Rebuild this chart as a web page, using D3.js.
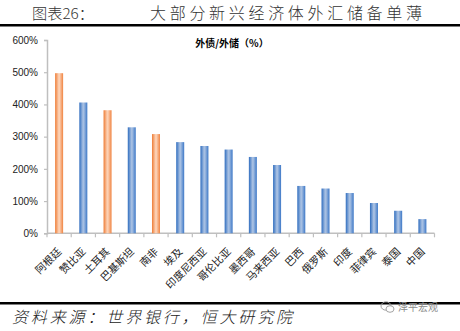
<!DOCTYPE html>
<html><head><meta charset="utf-8">
<script src="https://cdn.jsdelivr.net/npm/d3@7"></script>
<style>
html,body{margin:0;padding:0;background:#fff;}
svg{display:block;}
</style></head>
<body>
<svg id="chart" width="460" height="331"></svg>
<script>
// External debt / FX reserves ratio by emerging economy
const countries = ["阿根廷","赞比亚","土耳其","巴基斯坦","南非","埃及","印度尼西亚","哥伦比亚","墨西哥","马来西亚","巴西","俄罗斯","印度","菲律宾","泰国","中国"];
const ratios = [497, 406, 382, 329, 308, 283, 271, 260, 237, 212, 147, 139, 125, 94, 70, 44];
const highlighted = ["阿根廷","土耳其","南非"];
const yTicks = [0, 100, 200, 300, 400, 500, 600];

const svg = d3.select("#chart");
const plot = {left: 47, right: 434.5, top: 40, bottom: 233.3};

const x = d3.scaleBand().domain(countries).range([plot.left, plot.right]).padding(0);
const y = d3.scaleLinear().domain([0, 600]).range([plot.bottom, plot.top]);

// cylinder-style horizontal gradients
const defs = svg.append("defs");
function grad(id, edgeL, mid, edgeR) {
  const g = defs.append("linearGradient").attr("id", id).attr("x1", "0").attr("x2", "1").attr("y1", "0").attr("y2", "0");
  g.append("stop").attr("offset", "0%").attr("stop-color", edgeL);
  g.append("stop").attr("offset", "45%").attr("stop-color", mid);
  g.append("stop").attr("offset", "55%").attr("stop-color", mid);
  g.append("stop").attr("offset", "100%").attr("stop-color", edgeR);
}
grad("gBlue", "#2f6dbf", "#a6bfe2", "#3d78c7");
grad("gOrange", "#ee7c35", "#fcd0b3", "#f08442");

// header
svg.append("text").attr("x", 32).attr("y", 19)
  .attr("font-family", "Noto Sans CJK SC").attr("font-weight", 300).attr("font-size", 15)
  .attr("fill", "#333").attr("textLength", 62).attr("lengthAdjust", "spacingAndGlyphs")
  .text("图表26：");
svg.append("text").attr("x", 150).attr("y", 19)
  .attr("font-family", "Noto Sans CJK SC").attr("font-weight", 300).attr("font-size", 16)
  .attr("fill", "#333").attr("textLength", 272).attr("lengthAdjust", "spacing")
  .text("大部分新兴经济体外汇储备单薄");
svg.append("rect").attr("x", 0).attr("y", 24).attr("width", 460).attr("height", 2.5).attr("fill", "#000");

// legend title
svg.append("text").attr("x", 232).attr("y", 47).attr("text-anchor", "middle")
  .attr("font-family", "Noto Sans CJK SC").attr("font-weight", 700).attr("font-size", 10)
  .attr("fill", "#000").text("外债/外储（%）");

// y axis
const yAxis = d3.axisLeft(y).tickValues(yTicks).tickFormat(d => d + "%").tickSize(3).tickPadding(6);
const gy = svg.append("g").attr("transform", `translate(${plot.left},0)`).call(yAxis);
gy.select(".domain").attr("stroke", "#bfbfbf").attr("stroke-width", 1.5);
gy.selectAll(".tick line").attr("stroke", "#bfbfbf").attr("stroke-width", 1.2);
gy.selectAll(".tick text").attr("font-family", "Liberation Sans").attr("font-size", 10).attr("fill", "#222");

// x axis: baseline with ticks at category boundaries
const gx = svg.append("g");
gx.append("line").attr("x1", plot.left).attr("x2", plot.right).attr("y1", plot.bottom).attr("y2", plot.bottom)
  .attr("stroke", "#bfbfbf").attr("stroke-width", 1.5);
const bounds = countries.map(c => x(c)).concat([x(countries[countries.length - 1]) + x.bandwidth()]);
gx.selectAll("line.tk").data(bounds).enter().append("line").attr("class", "tk")
  .attr("x1", d => d).attr("x2", d => d).attr("y1", plot.bottom).attr("y2", plot.bottom + 4)
  .attr("stroke", "#bfbfbf").attr("stroke-width", 1.2);

// bars
const barW = 8;
svg.append("g").selectAll("rect").data(countries).enter().append("rect")
  .attr("x", c => x(c) + x.bandwidth() / 2 - barW / 2)
  .attr("y", (c, i) => y(ratios[i]))
  .attr("width", barW)
  .attr("height", (c, i) => y(0) - y(ratios[i]))
  .attr("fill", c => highlighted.includes(c) ? "url(#gOrange)" : "url(#gBlue)");

// category labels, rotated
svg.append("g").selectAll("text").data(countries).enter().append("text")
  .attr("transform", c => `translate(${x(c) + x.bandwidth() / 2 + 3},${plot.bottom + 19}) rotate(-45)`)
  .attr("text-anchor", "end")
  .attr("font-family", "Noto Sans CJK SC").attr("font-size", 10.5).attr("fill", "#222")
  .text(c => c);

// footer
svg.append("rect").attr("x", 0).attr("y", 302).attr("width", 460).attr("height", 2.5).attr("fill", "#000");
svg.append("text").attr("x", 12).attr("y", 323)
  .attr("font-family", "Noto Sans CJK SC").attr("font-weight", 300).attr("font-size", 16)
  .attr("font-style", "italic")
  .attr("fill", "#222").attr("textLength", 280).attr("lengthAdjust", "spacing")
  .text("资料来源：世界银行，恒大研究院");

// watermark
const wm = svg.append("g").attr("fill", "none").attr("stroke", "#9a9a9a").attr("stroke-width", 0.9);
wm.append("ellipse").attr("cx", 386).attr("cy", 306).attr("rx", 5).attr("ry", 4.2);
wm.append("ellipse").attr("cx", 390).attr("cy", 309).attr("rx", 4).attr("ry", 3.3).attr("fill", "#fff");
svg.append("text").attr("x", 398).attr("y", 310.5)
  .attr("font-family", "Noto Sans CJK SC").attr("font-size", 10).attr("fill", "#8a8a8a")
  .text("泽平宏观");
</script>
</body></html>
